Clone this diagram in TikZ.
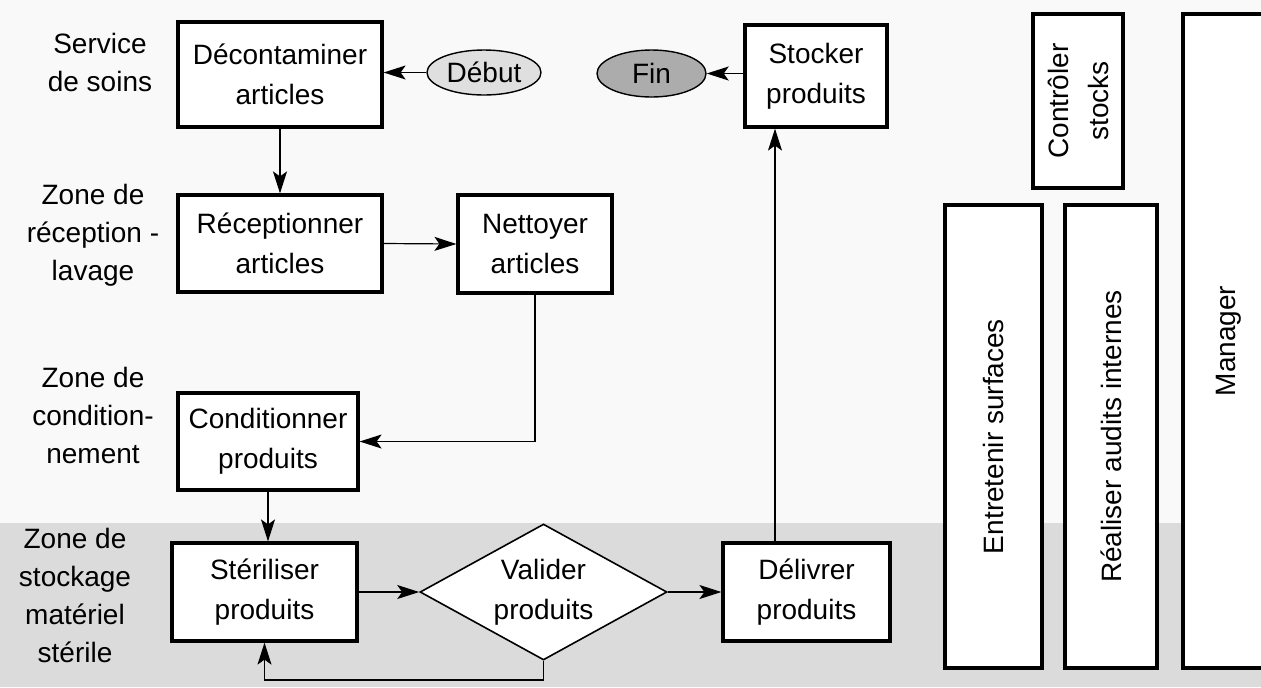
\documentclass[tikz,border=0pt]{standalone}
\usepackage{fontspec}
\setmainfont{Liberation Sans}
\usetikzlibrary{shapes.geometric,arrows.meta}
\begin{document}
\begin{tikzpicture}[x=0.5pt,y=-0.5pt,
  box/.style={draw,line width=1.6pt,fill=white,align=center,inner sep=0pt,font=\fontsize{14}{20}\selectfont},
  vbox/.style={box,rotate=90},
  lane/.style={align=center,inner sep=0pt,font=\fontsize{14}{19}\selectfont},
  oval/.style={ellipse,draw,line width=0.7pt,inner sep=0pt,font=\fontsize{14}{20}\selectfont},
  arr/.style={-{Stealth[length=11pt,width=7pt,inset=2.5pt]},line width=0.6pt}]
\useasboundingbox (0,0) rectangle (1261,687);
\fill[gray!5] (0,0) rectangle (1261,687);
\fill[gray!28] (0,523) rectangle (1261,687);

% lane labels
\node[lane] (l1) at (100,62) {Service\\de soins};
\node[lane] (l2) at (93,235) {Zone de\\réception -\\lavage};
\node[lane] (l3) at (93,415) {Zone de\\condition-\\nement};
\node[lane] (l4) at (75,595) {Zone de\\stockage\\matériel\\stérile};

% process boxes
\node[box,minimum width=102pt,minimum height=52.5pt] (dec) at (280,74.5) {Décontaminer\\articles};
\node[box,minimum width=102pt,minimum height=48.5pt] (rec) at (280,243.5) {Réceptionner\\articles};
\node[box,minimum width=77pt,minimum height=49pt] (net) at (535,244) {Nettoyer\\articles};
\node[box,minimum width=90pt,minimum height=48.5pt] (con) at (268,441.5) {Conditionner\\produits};
\node[box,minimum width=92.5pt,minimum height=49pt] (ste) at (264.5,592) {Stériliser\\produits};
\node[diamond,aspect=2.1,draw,line width=0.8pt,fill=white,align=center,inner sep=0pt,
      minimum width=123.5pt,minimum height=68pt,font=\fontsize{14}{20}\selectfont] (val) at (543.5,592) {Valider\\produits};
\node[box,minimum width=83.5pt,minimum height=49pt] (del) at (806.5,592) {Délivrer\\produits};
\node[box,minimum width=71pt,minimum height=51pt] (sto) at (816,76) {Stocker\\produits};

\node[oval,fill=gray!25,minimum width=57pt,minimum height=22.5pt] (deb) at (484,72.5) {Début};
\node[oval,fill=gray!65,minimum width=54.5pt,minimum height=23.5pt] (fin) at (651.5,73.5) {Fin};

% vertical boxes
\node[vbox,minimum width=87pt,minimum height=45pt] (ctl) at (1078,101) {Contrôler\\stocks};
\node[vbox,minimum width=231.5pt,minimum height=48.5pt] (ent) at (993.5,436.5) {Entretenir surfaces};
\node[vbox,minimum width=231.5pt,minimum height=46pt] (aud) at (1111,436.5) {Réaliser audits internes};
\node[vbox,minimum width=327pt,minimum height=46pt] (man) at (1229,341) {Manager};

% connectors
\coordinate (upx) at (775,0);
\coordinate (loopy) at (0,680);
\draw[arr] (deb.west) -- (deb.west -| dec.east);
\draw[arr] (sto.west |- fin.east) -- (fin.east);
\draw[arr] (dec.south) -- (rec.north);
\draw[arr] (rec.east) -- (net.west);
\draw[arr] (net.south) |- (con.east);
\draw[arr] (con.south) -- (con.south |- ste.north);
\draw[arr] (ste.east) -- (val.west);
\draw[arr] (val.east) -- (del.west);
\draw[arr] (del.north -| upx) -- (sto.south -| upx);
\draw[arr] (val.south) -- (val.south |- loopy) -| (ste.south);
\end{tikzpicture}
\end{document}
